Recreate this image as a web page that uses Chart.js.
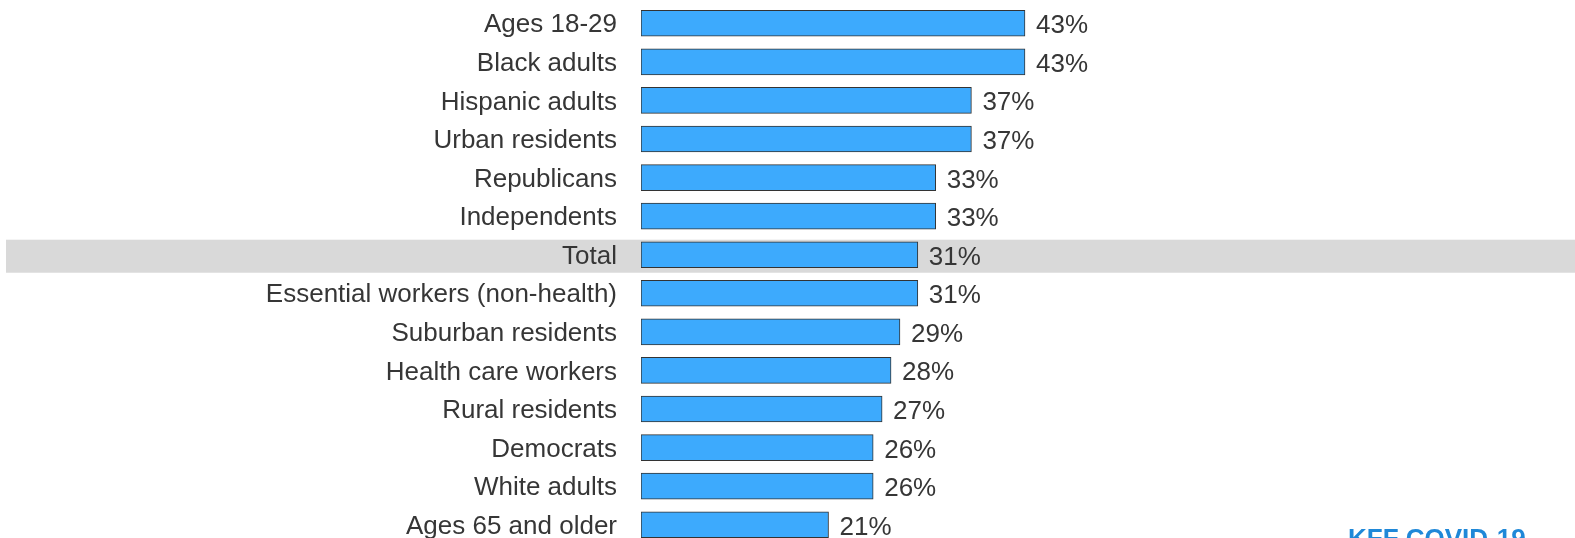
<!DOCTYPE html>
<html lang="en">
<head>
    <meta charset="UTF-8">
    <title>Share by group</title>
    <script src="https://cdn.jsdelivr.net/npm/chart.js"></script>
    <style>
        body {
            margin: 0;
            padding: 0;
            background: #ffffff;
            overflow: hidden;
            width: 1575px;
            height: 538px;
            position: relative;
        }
        .chart-box {
            position: absolute;
            left: 0;
            top: 0;
            width: 1575px;
            height: 548px;
        }
        .brand {
            position: absolute;
            left: 1348px;
            top: 525px;
            font-family: "Liberation Sans", Arial, sans-serif;
            font-weight: bold;
            font-size: 26px;
            line-height: 26px;
            color: #1f88d8;
            white-space: nowrap;
        }
    </style>
</head>
<body>
    <div class="chart-box">
        <canvas id="groupChart"></canvas>
    </div>
    <div class="brand">KFF COVID-19</div>

    <script>
        // categories and values
        const groups = [
            'Ages 18-29', 'Black adults', 'Hispanic adults', 'Urban residents',
            'Republicans', 'Independents', 'Total', 'Essential workers (non-health)',
            'Suburban residents', 'Health care workers', 'Rural residents',
            'Democrats', 'White adults', 'Ages 65 and older'
        ];
        const shares = [43, 43, 37, 37, 33, 33, 31, 31, 29, 28, 27, 26, 26, 21];
        const highlightGroup = 'Total';

        const FONT = '"Liberation Sans", Arial, sans-serif';
        const TEXT = '#363636';

        // grey band behind the "Total" row
        const bandPlugin = {
            id: 'band',
            beforeDraw(chart) {
                const y = chart.scales.y;
                const i = groups.indexOf(highlightGroup);
                const c = y.getPixelForValue(i);
                const ctx = chart.ctx;
                ctx.save();
                ctx.fillStyle = '#d9d9d9';
                ctx.fillRect(6, c - 15, chart.width - 6, 33);
                ctx.restore();
            }
        };

        // value labels at the end of every bar
        const valuePlugin = {
            id: 'values',
            afterDatasetsDraw(chart) {
                const ctx = chart.ctx;
                const meta = chart.getDatasetMeta(0);
                ctx.save();
                ctx.font = '26px ' + FONT;
                ctx.fillStyle = TEXT;
                ctx.textAlign = 'left';
                ctx.textBaseline = 'alphabetic';
                meta.data.forEach((bar, i) => {
                    ctx.fillText(shares[i] + '%', bar.x + 11, bar.y + 10);
                });
                ctx.restore();
            }
        };

        new Chart(document.getElementById('groupChart'), {
            type: 'bar',
            data: {
                labels: groups,
                datasets: [{
                    data: shares,
                    backgroundColor: '#3daafd',
                    borderColor: '#333333',
                    borderWidth: 1,
                    borderSkipped: false,
                    barThickness: 26
                }]
            },
            options: {
                indexAxis: 'y',
                responsive: true,
                maintainAspectRatio: false,
                animation: false,
                layout: { padding: { top: 4, bottom: 4, right: 41, left: 0 } },
                plugins: {
                    legend: { display: false },
                    tooltip: { enabled: false }
                },
                scales: {
                    x: {
                        display: false,
                        min: 0,
                        max: 100
                    },
                    y: {
                        afterFit(scale) {
                            scale.width = 641;
                            scale.paddingTop = 0;
                            scale.paddingBottom = 0;
                        },
                        grid: { display: false, drawTicks: false },
                        border: { display: false },
                        ticks: {
                            padding: 24,
                            labelOffset: 2,
                            color: TEXT,
                            font: { family: FONT, size: 26 }
                        }
                    }
                }
            },
            plugins: [bandPlugin, valuePlugin]
        });
    </script>
</body>
</html>
